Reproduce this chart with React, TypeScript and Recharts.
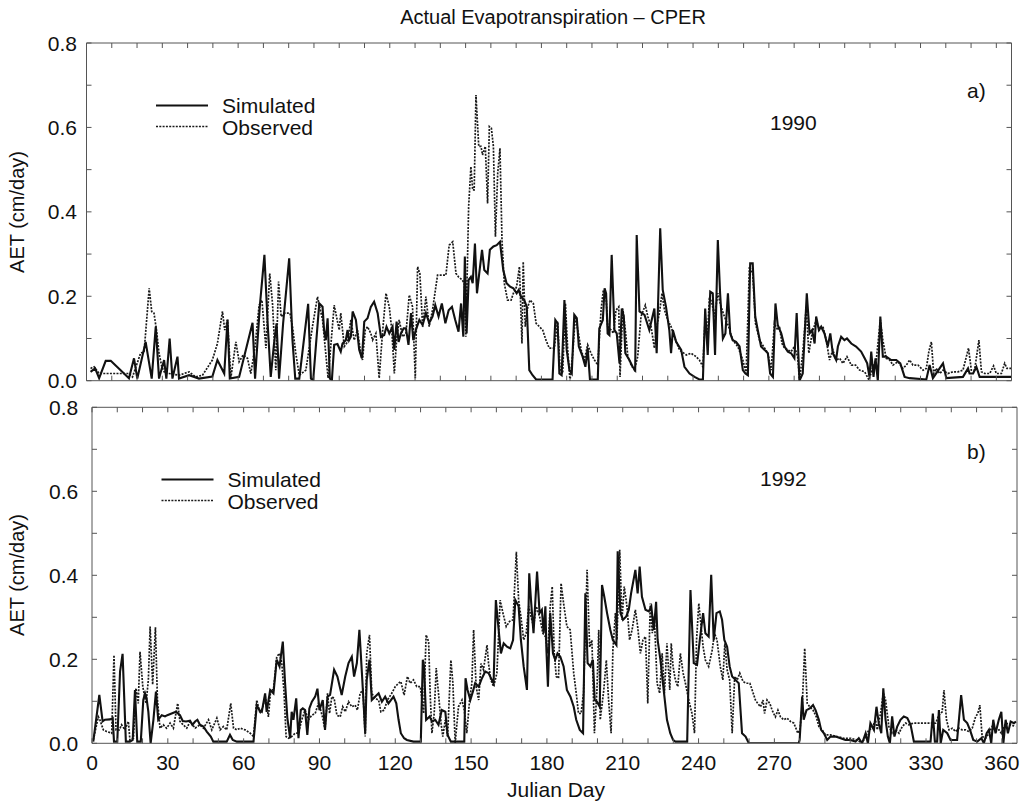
import React from "react";
import { LineChart, Line, XAxis, YAxis } from "recharts";

// ---------------- data (Julian day, AET cm/day) ----------------
const simulated1990: [number, number][] = [
  [1.6,0.021],[3.4,0.029],[5,0.006],[7.6,0.047],[9.6,0.047],[16.8,0.006],[18.8,0.053],[20.1,0.005],[23.4,0.092],[25.8,0.005],[27.4,0.128],[28.7,0.005],[30.7,0.049],[31.6,0.005],[32.9,0.1],[34,0.005],[36,0.057],[36.6,0.005],[40.6,0.013],[44.5,0.005],[49.8,0.01],[51.8,0.049],[54.5,0.017],[55.8,0.145],[56.7,0.005],[60.4,0.009],[65.7,0.137],[66.7,0.005],[68.6,0.178],[70.4,0.298],[71.6,0.144],[72.9,0.009],[74.2,0.088],[75.2,0.136],[76.2,0.005],[77.8,0.136],[80.2,0.29],[81.5,0.096],[82.6,0.005],[84.2,0.005],[87.7,0.182],[88.8,0.005],[89.7,0.002],[92.1,0.183],[93.4,0.175],[94,0.12],[94.7,0.096],[95.4,0.148],[96.3,0.005],[97.1,0.002],[98,0.085],[99.3,0.087],[100.6,0.069],[101.3,0.088],[102.6,0.096],[103.3,0.12],[103.9,0.096],[104.6,0.104],[105.3,0.164],[106.6,0.144],[107.9,0.073],[109,0.053],[109.9,0.14],[111.2,0.148],[112.5,0.175],[113.8,0.187],[115.2,0.16],[116.5,0.104],[117.8,0.108],[118.7,0.128],[119.8,0.112],[121.1,0.128],[121.8,0.073],[122.7,0.14],[123.5,0.092],[124.4,0.112],[125.5,0.124],[126.4,0.124],[127.4,0.085],[128.4,0.16],[129.3,0.096],[130.3,0.12],[131.7,0.144],[133,0.132],[134.3,0.16],[135.6,0.137],[136.9,0.152],[138,0.179],[139.3,0.152],[140.6,0.183],[142,0.136],[143.3,0.167],[144.6,0.175],[145.9,0.144],[147.2,0.116],[148.2,0.183],[149.1,0.104],[149.7,0.294],[150.4,0.112],[151.2,0.239],[152.1,0.246],[152.8,0.231],[153.7,0.325],[154.5,0.207],[155.4,0.254],[156.5,0.31],[157.4,0.262],[158.7,0.254],[159.6,0.31],[161,0.318],[162.3,0.321],[163.6,0.329],[164.9,0.262],[166.2,0.231],[167.6,0.223],[168.9,0.219],[170.2,0.207],[171,0.215],[171.9,0.199],[173.2,0.191],[174.2,0.175],[175.2,0.025],[176.5,0.013],[177.9,0.003],[184.4,0.003],[185.5,0.144],[186.4,0.136],[187.1,0.017],[188,0.013],[189.1,0.191],[190,0.073],[191.1,0.025],[192,0.017],[193,0.156],[194,0.148],[194.8,0.081],[196.3,0.057],[197.4,0.033],[198.3,0.077],[199.2,0.003],[202.3,0.003],[202.9,0.124],[204.3,0.144],[205,0.219],[205.6,0.207],[206.2,0.112],[206.9,0.108],[207.8,0.298],[208.9,0.12],[209.8,0.112],[210.9,0.041],[211.8,0.171],[212.6,0.152],[213.2,0.065],[214.8,0.049],[216.1,0.033],[217.1,0.025],[217.7,0.345],[218.8,0.164],[220.8,0.156],[222.7,0.12],[224.7,0.171],[225.6,0.065],[227,0.361],[228,0.215],[229.3,0.175],[230.6,0.12],[231.3,0.065],[232,0.12],[233.3,0.092],[235.3,0.073],[236.6,0.033],[238.6,0.017],[240.6,0.009],[242.5,0.003],[243.9,0.003],[244.8,0.171],[245.8,0.061],[246.8,0.211],[247.8,0.207],[248.7,0.061],[249.8,0.333],[250.7,0.207],[251.8,0.1],[252.8,0.112],[253.8,0.207],[254.7,0.112],[255.7,0.096],[257,0.092],[258.4,0.081],[259.7,0.025],[260.7,0.017],[261.7,0.013],[262.6,0.278],[263.6,0.278],[264.6,0.152],[265.6,0.12],[266.9,0.081],[268.3,0.073],[269.6,0.065],[270.5,0.017],[271.6,0.009],[272.6,0.183],[273.5,0.132],[274.9,0.112],[276.2,0.081],[277.5,0.069],[278.8,0.065],[280.1,0.053],[281,0.16],[282.1,0],[283.4,0.017],[285,0.207],[286.1,0.112],[287.1,0.12],[288.1,0.088],[288.7,0.152],[289.8,0.12],[290.7,0.128],[292,0.112],[293.3,0.081],[294.3,0.112],[295.3,0.065],[296.6,0.049],[297.3,0.081],[298.6,0.104],[299.9,0.096],[300.9,0.1],[302.6,0.088],[304.5,0.081],[306.5,0.069],[307.9,0.053],[308.9,0.041],[309.8,0.009],[310.5,0.069],[311.4,0.009],[312.2,0.053],[313.1,0],[314.1,0.152],[315.1,0.057],[316.4,0.057],[318.4,0.049],[320.4,0.049],[322,0.041],[323.7,0.009],[325.7,0.006],[332.3,0.003],[333.6,0.037],[334.9,0.006],[338.9,0.041],[340.2,0.006],[346.8,0.009],[348.8,0.029],[349.4,0.017],[350.8,0.017],[352.1,0.033],[353.4,0.009],[365.9,0.009]
];

const observed1990: [number, number][] = [
  [1.6,0.029],[3,0.033],[5,0.017],[7.6,0.017],[10.2,0.017],[16.8,0.017],[18.2,0.009],[21.4,0.065],[22.8,0.069],[24.8,0.219],[25.8,0.164],[26.7,0.16],[27.7,0.12],[28.7,0.065],[29.8,0.033],[31.1,0.017],[32.7,0.017],[36.6,0.013],[40.6,0.021],[43.2,0.009],[45.9,0.013],[49.8,0.049],[51.8,0.088],[53.8,0.164],[54.7,0.12],[55.8,0.144],[57.1,0.006],[59.1,0.092],[60.4,0.045],[62,0.061],[63.7,0.053],[65,0.017],[66.7,0.081],[68.3,0.179],[69.4,0.191],[71,0.077],[72.5,0.254],[73.6,0.183],[74.9,0.025],[76,0.235],[77,0.152],[78.6,0.16],[80.5,0.16],[81.5,0.128],[82.8,0.065],[84.2,0.013],[86.8,0.025],[89.4,0.128],[91.4,0.199],[93.4,0.144],[95.6,0.006],[98,0.179],[100,0.12],[100.6,0.16],[102,0.081],[103.3,0.092],[104.6,0.144],[105.9,0.096],[107.2,0.12],[108.6,0.061],[109.2,0.049],[110.3,0.12],[111.2,0.128],[112.5,0.112],[113.2,0.096],[114.5,0.112],[115.8,0.006],[117.1,0.112],[118.5,0.207],[119.8,0.175],[120.8,0.12],[121.8,0.017],[122.7,0.096],[123.7,0.144],[125.1,0.104],[126.4,0.112],[127.7,0.203],[129,0.175],[130.1,0.006],[131,0.27],[131.9,0.254],[133,0.128],[134.3,0.199],[135.6,0.128],[136.9,0.167],[138.9,0.25],[140.2,0.25],[142.2,0.25],[143.5,0.321],[144.9,0.329],[146.2,0.254],[147.2,0.246],[148.6,0.239],[149.5,0.231],[150.1,0.104],[151.2,0.412],[152.1,0.507],[152.8,0.452],[153.4,0.452],[154.1,0.677],[155.2,0.555],[156.1,0.555],[156.7,0.535],[157.8,0.555],[158.7,0.42],[159.4,0.602],[160.2,0.598],[161,0.555],[161.8,0.341],[162.7,0.491],[163.6,0.551],[164.4,0.333],[165.3,0.231],[166.6,0.191],[168,0.191],[168.9,0.207],[170.2,0.223],[171.3,0.27],[172.3,0.088],[172.8,0.282],[173.6,0.128],[174.6,0.175],[175.5,0.191],[176.8,0.183],[177.9,0.136],[179.2,0.128],[180.5,0.12],[181.8,0.096],[183.1,0.077],[185.1,0.077],[186.4,0.14],[187.4,0.025],[188.4,0.017],[189.5,0.183],[190.4,0.073],[191.3,0],[192.4,0.065],[193.4,0.152],[194.4,0.12],[195.7,0.073],[197,0.049],[198.3,0.085],[199.6,0.065],[201,0.049],[202.3,0.037],[203.6,0.167],[204.5,0.215],[205.6,0.199],[206.2,0.128],[207.6,0.12],[208.5,0.112],[209.5,0.167],[210.6,0.175],[211.1,0.009],[212.2,0.171],[213.2,0.12],[214.2,0.057],[215.5,0.037],[216.8,0.025],[218.1,0.057],[219.4,0.152],[221.1,0.179],[222.1,0.152],[223.4,0.128],[224.7,0.077],[225.6,0.128],[226.7,0.16],[227.7,0.207],[228.7,0.167],[230,0.144],[231.3,0.128],[232.6,0.104],[234.6,0.073],[237.3,0.061],[239.2,0.065],[241.2,0.057],[242.5,0.049],[243.9,0.033],[244.8,0.152],[245.6,0.096],[246.5,0.199],[247.5,0.183],[248.5,0.152],[249.8,0.207],[251.1,0.175],[252.4,0.152],[254.1,0.128],[255.7,0.096],[257.7,0.081],[259.7,0.049],[261,0.017],[262.3,0.27],[263.6,0.254],[264.7,0.136],[266.3,0.096],[267.9,0.081],[269.6,0.065],[270.9,0.025],[272.2,0.136],[273.5,0.12],[274.2,0.128],[275.2,0.088],[276.2,0.077],[277.5,0.073],[278.8,0.069],[280.1,0.081],[281.4,0.057],[282.1,0],[283.4,0.065],[284.8,0.175],[285.8,0.065],[287.1,0.112],[288.7,0.144],[290,0.12],[291.4,0.128],[292.7,0.096],[294,0.049],[295.3,0.073],[296.6,0.049],[298,0.053],[299.3,0.041],[300.9,0.057],[302.6,0.037],[304.3,0.037],[305.9,0.025],[307.9,0.021],[309.6,0.002],[311.2,0.033],[312.5,0.049],[314.1,0.144],[315.1,0.096],[316.4,0.053],[317.8,0.049],[319.1,0.037],[321.1,0.045],[323,0.029],[324.4,0.037],[325.7,0.049],[327,0.037],[329,0.037],[331,0.025],[332.3,0.029],[333.3,0.069],[334.3,0.092],[335.2,0.017],[336.2,0.029],[337.6,0.017],[338.9,0.025],[340.8,0.017],[342.8,0.021],[344.8,0.021],[346.8,0.025],[349,0.077],[350.1,0.025],[351.4,0.025],[353.1,0.096],[354.1,0.021],[355.4,0.017],[357.4,0.017],[358.9,0.035],[360,0.017],[362,0.017],[363.3,0.041],[364.2,0.029],[365.9,0.029]
];

const simulated1992: [number, number][] = [
  [0.5,0.004],[2.9,0.115],[4.2,0.052],[5.1,0.056],[7.1,0.057],[8.2,0.06],[8.7,0.004],[10,0.004],[11.1,0.171],[12.1,0.213],[13.4,0.004],[15,0.004],[16.1,0.008],[17,0.127],[17.9,0.004],[19.3,0.004],[20.3,0.103],[21,0.119],[21.6,0.107],[22.3,0.075],[23.2,0],[24.3,0.056],[25.3,0.123],[26.2,0.056],[27.6,0.067],[28.9,0.064],[29.8,0.067],[31.5,0.071],[33.2,0.075],[34.8,0.067],[35.9,0.053],[37.2,0.052],[38.8,0.054],[39.7,0.044],[40.8,0.052],[41.7,0.056],[42.7,0.044],[44.1,0.04],[45.4,0.028],[47,0.016],[48,0.004],[53.3,0.004],[54.6,0.02],[55.7,0.008],[57.3,0.004],[63.9,0.004],[65.2,0.091],[66.2,0.079],[67.2,0.075],[68.5,0.119],[69.1,0.075],[70.5,0.127],[71.8,0.119],[73.1,0.199],[74.2,0.183],[75.5,0.242],[76.4,0.143],[77.3,0.06],[78.4,0.012],[79,0.075],[79.7,0.056],[80.8,0.107],[81.7,0.012],[82.6,0.079],[83.4,0.083],[84.3,0.079],[85.2,0.02],[86,0.083],[87,0.099],[88.3,0.111],[89.2,0.13],[90,0.079],[91.3,0.103],[92.2,0.032],[93.2,0.111],[94.2,0.115],[95.8,0.175],[97.1,0.159],[98.8,0.115],[100.2,0.159],[101.5,0.191],[102.8,0.206],[103.7,0.159],[104.8,0.191],[105.8,0.27],[106.8,0.167],[107.4,0.103],[108.1,0.024],[108.7,0.151],[109.8,0.199],[110.7,0.103],[112,0.111],[113.4,0.119],[114.7,0.099],[116,0.111],[117.3,0.095],[119.3,0.111],[120.4,0.095],[121.3,0.056],[122.2,0.024],[123.5,0.012],[124.6,0.008],[127.2,0.004],[130.1,0.004],[130.9,0.199],[131.4,0.183],[132.2,0.056],[133.6,0.064],[134.5,0.052],[135.8,0.056],[137.1,0.044],[138.4,0.079],[139.8,0.075],[140.7,0.02],[142,0.004],[147.3,0.004],[147.8,0.155],[148.6,0.127],[149.7,0.103],[150.7,0.123],[151.6,0.143],[153,0.135],[154.3,0.155],[155.6,0.171],[156.9,0.167],[158.2,0.151],[158.9,0.143],[159.8,0.341],[160.9,0.27],[161.8,0.214],[162.9,0.238],[164.2,0.23],[165.5,0.226],[166.6,0.246],[167.5,0.341],[168.8,0.326],[169.7,0.246],[170.8,0.183],[172.1,0.127],[173,0.405],[173.7,0.341],[174.7,0.262],[176.1,0.409],[177.1,0.31],[178,0.318],[178.7,0.262],[179.4,0.326],[179.8,0.222],[180.4,0.135],[181.3,0.31],[182.4,0.214],[183.3,0.199],[184.2,0.214],[185.3,0.206],[186.6,0.183],[187.9,0.127],[189.3,0.111],[190.6,0.087],[191.6,0.056],[193,0.032],[194.3,0.024],[195.2,0.357],[196.1,0.191],[197.2,0.183],[198.2,0.199],[198.9,0.103],[199.8,0.099],[200.9,0.087],[201.8,0.377],[202.7,0.349],[203.8,0.31],[205.1,0.27],[206.1,0.246],[207.5,0.234],[208,0.457],[209.1,0.31],[210.1,0.294],[211.4,0.302],[212.4,0.318],[213.3,0.357],[215,0.413],[215.9,0.357],[216.7,0.421],[217.6,0.349],[219,0.318],[220.3,0.314],[221.3,0.326],[222.3,0.27],[223.2,0.337],[223.8,0.246],[224.9,0.199],[226.2,0.127],[227.5,0.056],[228.8,0.024],[229.9,0.008],[230.8,0.004],[235.5,0.004],[236.8,0.365],[238.1,0.191],[239.4,0.187],[240.5,0.246],[241.8,0.31],[242.7,0.262],[244,0.254],[245,0.401],[246,0.246],[247.1,0.31],[248.4,0.314],[249.3,0.294],[250.2,0.246],[251.3,0.23],[252.3,0.183],[253.3,0.159],[254.6,0.151],[255.9,0.143],[257.2,0.024],[258.6,0.016],[259.9,0],[279.6,0],[280,0.008],[281,0.111],[281.6,0.056],[282.7,0.079],[284,0.083],[285.3,0.091],[286.3,0.079],[287.6,0.056],[288.5,0.032],[289.6,0.024],[290.9,0.008],[292.2,0.016],[294.2,0.016],[296.2,0.012],[298.1,0.008],[300.1,0.008],[302.1,0.004],[303.4,0.012],[304.7,0],[306.1,0.024],[307,0],[308,0.048],[309.4,0.032],[310.4,0.087],[311.3,0.048],[312.3,0.024],[313.1,0.131],[314,0.056],[314.9,0.016],[315.7,0],[316.6,0.064],[317.5,0.016],[318.6,0.04],[319.9,0.056],[321.2,0.064],[322.6,0.06],[323.9,0.044],[325.2,0.004],[331.8,0.004],[332.7,0.071],[333.5,0.004],[334.4,0.004],[335.1,0.079],[335.8,0],[336.8,0.032],[338.4,0.024],[339.7,0.008],[342.3,0.008],[343.9,0.115],[345,0.056],[346.3,0.048],[347.4,0.032],[348.7,0.008],[350.3,0.004],[351.9,0.012],[352.9,0],[354,0.024],[354.9,0.032],[355.8,0],[356.6,0.056],[357.5,0.024],[358.8,0.056],[359.8,0.075],[360.6,0],[361.5,0.056],[362.4,0.024],[363.5,0.052],[364.8,0.048],[365.6,0.052]
];

const observed1992: [number, number][] = [
  [0.5,0.008],[2.5,0.063],[3.1,0.056],[4.5,0.032],[5.8,0.028],[7.8,0.024],[8.7,0.21],[9.5,0.032],[10.8,0.032],[11.7,0.044],[13,0.032],[14.4,0.052],[15,0.008],[16.4,0.012],[17.4,0.131],[18.3,0.095],[19,0.218],[20.1,0.135],[20.6,0.119],[21.4,0.095],[22.3,0.151],[23,0.278],[24,0.14],[25.1,0.276],[25.9,0.103],[26.9,0.036],[28.2,0.044],[29.5,0.036],[30.9,0.048],[32.2,0.036],[33.9,0.095],[34.8,0.052],[36.1,0.044],[37.5,0.036],[38.8,0.052],[40.8,0.036],[42.7,0.044],[44.1,0.036],[46.1,0.056],[47.4,0.032],[49.4,0.06],[50.7,0.032],[52,0.04],[53.3,0.032],[54.9,0.095],[56,0.036],[57.3,0.032],[58.6,0.036],[60.6,0.032],[62.6,0.024],[63.9,0.016],[65.2,0.103],[66.5,0.071],[67.6,0.087],[68.6,0.111],[69.8,0.063],[70.7,0.127],[71.8,0.127],[73.1,0.206],[74.2,0.214],[75.1,0.191],[76,0.119],[76.8,0.016],[77.7,0.012],[79,0.016],[80.4,0.024],[81.7,0.024],[83,0.056],[84.3,0.079],[85.6,0.056],[87,0.067],[88.3,0.071],[89.6,0.095],[90.5,0.079],[91.3,0.06],[92.2,0.032],[93.2,0.119],[94,0.071],[94.9,0.111],[95.8,0.107],[96.9,0.067],[98.2,0.063],[99.2,0.087],[100.2,0.075],[101.5,0.099],[102.8,0.087],[104.1,0.091],[105,0.079],[106.1,0.119],[107.2,0.127],[108.1,0.016],[108.7,0.214],[109.8,0.258],[110.7,0.119],[112,0.107],[113.4,0.103],[114.3,0.075],[115.6,0.079],[116.9,0.103],[118.6,0.119],[120,0.135],[121.3,0.143],[122.2,0.147],[123.5,0.115],[124.8,0.159],[125.9,0.143],[127.2,0.151],[128.5,0.135],[129.9,0.135],[131.2,0.071],[132.2,0.258],[133.2,0.242],[133.8,0.119],[134.5,0.024],[135.4,0.071],[136.2,0.179],[137.1,0.119],[138.1,0.048],[138.8,0.016],[139.8,0.056],[140.7,0.016],[142,0.198],[142.8,0.143],[143.7,0],[145,0.087],[146.4,0.103],[147.3,0.079],[148.3,0.024],[149.4,0.103],[150.3,0.143],[151,0.27],[152,0.135],[153,0.103],[153.9,0.19],[154.9,0.175],[156.3,0.234],[156.9,0.19],[157.8,0.151],[158.9,0.135],[160.2,0.167],[161.5,0.341],[162.6,0.31],[163.9,0.278],[165.2,0.29],[166.6,0.294],[167.9,0.456],[168.8,0.341],[169.7,0.302],[170.8,0.246],[171.8,0.262],[172.8,0.326],[173.7,0.302],[174.7,0.278],[175.8,0.326],[177.1,0.302],[178.4,0.262],[179.4,0.254],[180.3,0.214],[181.3,0.326],[182.1,0.373],[182.9,0.214],[183.7,0.159],[184.6,0.155],[185.6,0.381],[186.6,0.333],[187.9,0.278],[189.2,0.27],[190.6,0.167],[191.6,0.119],[192.5,0.071],[193.5,0.071],[194.5,0.119],[195.9,0.413],[196.9,0.229],[197.8,0.246],[198.8,0.024],[199.8,0.127],[200.5,0.27],[201.1,0.056],[202.5,0.127],[203.5,0.198],[204.4,0.103],[205.4,0.024],[206.1,0.222],[207.1,0.31],[207.7,0.246],[208.8,0.461],[209.7,0.294],[210.6,0.373],[211.7,0.325],[212.7,0.246],[213.7,0.27],[215,0.318],[215.9,0.278],[217,0.214],[218,0.246],[219,0.254],[219.9,0.095],[220.9,0.333],[221.7,0.262],[222.5,0.302],[223.6,0.143],[224.6,0.119],[225.6,0.214],[226.5,0.119],[227.5,0.238],[228.6,0.127],[229.2,0.238],[229.9,0.183],[230.8,0.151],[231.8,0.135],[232.8,0.214],[233.9,0.167],[234.8,0.143],[236.1,0.103],[237.4,0.071],[238.4,0.024],[239.2,0.246],[240.1,0.333],[241,0.278],[241.8,0.23],[242.7,0.198],[244,0.183],[245.4,0.222],[246.3,0.262],[247.3,0.246],[248.6,0.183],[249.6,0.151],[250.4,0.238],[251.3,0.175],[252.3,0.151],[253.3,0.024],[254.3,0.159],[255.3,0.151],[256.3,0.167],[257.6,0.147],[258.9,0.143],[260.3,0.143],[261.2,0.127],[262.5,0.103],[263.4,0.095],[264.5,0.087],[265.5,0.103],[266.1,0.071],[267.1,0.103],[268.2,0.095],[269.1,0.079],[270.4,0.063],[271.4,0.079],[272.4,0.063],[273.7,0.056],[275,0.06],[276.4,0.052],[277.7,0.048],[279.3,0.024],[280.1,0.032],[281,0.087],[282,0.226],[283,0.095],[284,0.087],[285.3,0.079],[286.6,0.063],[287.6,0.04],[288.9,0.032],[290.2,0.02],[292.2,0.02],[294.8,0.016],[297.5,0.012],[300.1,0.012],[302.8,0.008],[304.7,0],[306.1,0.016],[307.4,0.032],[308.7,0.036],[310,0.056],[310.7,0.032],[312,0.071],[313.1,0.119],[314,0.103],[315.3,0.04],[316.6,0.024],[317.9,0.032],[319.3,0.024],[320.6,0.04],[321.9,0.048],[323.2,0.044],[324.9,0.048],[332.5,0.048],[333.8,0.048],[335.1,0.067],[336.4,0.075],[337.1,0.127],[338.1,0.056],[339.1,0.032],[340.4,0.036],[341.7,0.028],[343,0.036],[344.3,0.032],[345.6,0.032],[347,0.028],[348.3,0.036],[349.6,0.063],[350.5,0.071],[351.3,0.091],[352.2,0.016],[353.6,0.012],[354.9,0.024],[356.2,0.04],[357.5,0.028],[358.9,0.032],[359.8,0.024],[361.5,0.048],[363.5,0.044],[365.4,0.04]
];

const dayTicks: number[] = [0,10,20,30,40,50,60,70,80,90,100,110,120,130,140,150,160,170,180,190,200,210,220,230,240,250,260,270,280,290,300,310,320,330,340,350,360];
const aetTicks: number[] = [0,0.1,0.2,0.3,0.4,0.5,0.6,0.7,0.8];
const panelYears: string[] = ["1990", "1992"];
const panelLetters: string[] = ["a)", "b)"];
const seriesNames: string[] = ["Simulated", "Observed"];

// ---------------- styles ----------------
const FONT = "'Liberation Sans', Arial, Helvetica, sans-serif";
const INK = "#111";
const FRAME = "#555";
const SIM_STYLE = { stroke: "#111", strokeWidth: 2.1 };
const OBS_STYLE = { stroke: "#1a1a1a", strokeWidth: 1.7, strokeDasharray: "2 1.3" };

const toPoints = (arr: [number, number][]) => arr.map(([day, aet]) => ({ day, aet }));

const TICK_LEN = 5;

function XTick(props: any) {
  const { x, y, payload, dir, showLabel } = props;
  const v = payload.value as number;
  return (
    <g>
      <line x1={x} x2={x} y1={y} y2={y + dir * TICK_LEN} stroke={FRAME} strokeWidth={1} />
      {showLabel && v % 30 === 0 ? (
        <text x={x} y={y + 26.5} textAnchor="middle" fontSize={21} fontFamily={FONT} fill={INK}>
          {v}
        </text>
      ) : null}
    </g>
  );
}

function YTick(props: any) {
  const { x, y, payload, dir, labelGap } = props;
  const v = payload.value as number;
  const tenth = Math.round(v * 10);
  return (
    <g>
      <line x1={x} x2={x + dir * TICK_LEN} y1={y} y2={y} stroke={FRAME} strokeWidth={1} />
      {labelGap !== undefined && tenth % 2 === 0 ? (
        <text x={x - labelGap} y={y + 7.5} textAnchor="end" fontSize={21} fontFamily={FONT} fill={INK}>
          {(tenth / 10).toFixed(1)}
        </text>
      ) : null}
    </g>
  );
}

function Panel(props: {
  sim: [number, number][];
  obs: [number, number][];
  height: number;
  margin: { top: number; right: number; bottom: number; left: number };
  labelGap: number;
  showXLabels: boolean;
}) {
  const { sim, obs, height, margin, labelGap, showXLabels } = props;
  return (
    <LineChart width={1024} height={height} margin={margin} style={{ overflow: "visible" }}>
      <XAxis
        xAxisId="b"
        dataKey="day"
        type="number"
        domain={[0, 366]}
        ticks={dayTicks}
        interval={0}
        allowDataOverflow
        height={1}
        tickSize={0}
        tickMargin={0}
        tickLine={false}
        axisLine={{ stroke: FRAME, strokeWidth: 1 }}
        tick={(p: any) => <XTick {...p} dir={-1} showLabel={showXLabels} />}
      />
      <XAxis
        xAxisId="t"
        orientation="top"
        dataKey="day"
        type="number"
        domain={[0, 366]}
        ticks={dayTicks}
        interval={0}
        allowDataOverflow
        height={1}
        tickSize={0}
        tickMargin={0}
        tickLine={false}
        axisLine={{ stroke: FRAME, strokeWidth: 1 }}
        tick={(p: any) => <XTick {...p} dir={1} showLabel={false} />}
      />
      <YAxis
        yAxisId="l"
        type="number"
        domain={[0, 0.8]}
        ticks={aetTicks}
        interval={0}
        allowDataOverflow
        width={1}
        tickSize={0}
        tickMargin={0}
        tickLine={false}
        axisLine={{ stroke: FRAME, strokeWidth: 1 }}
        tick={(p: any) => <YTick {...p} dir={1} labelGap={labelGap} />}
      />
      <YAxis
        yAxisId="r"
        orientation="right"
        type="number"
        domain={[0, 0.8]}
        ticks={aetTicks}
        interval={0}
        allowDataOverflow
        width={1}
        tickSize={0}
        tickMargin={0}
        tickLine={false}
        axisLine={{ stroke: FRAME, strokeWidth: 1 }}
        tick={(p: any) => <YTick {...p} dir={-1} />}
      />
      <Line
        xAxisId="b"
        yAxisId="l"
        data={toPoints(obs)}
        dataKey="aet"
        name={seriesNames[1]}
        type="linear"
        dot={false}
        activeDot={false}
        isAnimationActive={false}
        {...OBS_STYLE}
      />
      <Line
        xAxisId="b"
        yAxisId="l"
        data={toPoints(sim)}
        dataKey="aet"
        name={seriesNames[0]}
        type="linear"
        dot={false}
        activeDot={false}
        isAnimationActive={false}
        {...SIM_STYLE}
      />
    </LineChart>
  );
}

function LegendBlock(props: { x: number; y: number }) {
  const { x, y } = props;
  return (
    <g fontFamily={FONT} fontSize={21} fill={INK}>
      <line x1={x} x2={x + 52} y1={y} y2={y} {...SIM_STYLE} />
      <text x={x + 66} y={y + 7}>{seriesNames[0]}</text>
      <line x1={x} x2={x + 52} y1={y + 21} y2={y + 21} {...OBS_STYLE} />
      <text x={x + 66} y={y + 29}>{seriesNames[1]}</text>
    </g>
  );
}

export default function App() {
  return (
    <div style={{ position: "absolute", left: 0, top: 0, width: 1024, height: 805, background: "#fff", overflow: "hidden" }}>
      <div style={{ position: "absolute", left: 0, top: 0 }}>
        <Panel
          sim={simulated1990}
          obs={observed1990}
          height={400}
          margin={{ top: 42, right: 11.5, bottom: 18.3, left: 85.5 }}
          labelGap={9.5}
          showXLabels={false}
        />
      </div>
      <div style={{ position: "absolute", left: 0, top: 385 }}>
        <Panel
          sim={simulated1992}
          obs={observed1992}
          height={420}
          margin={{ top: 21.3, right: 6, bottom: 60.7, left: 91 }}
          labelGap={13.7}
          showXLabels={true}
        />
      </div>
      <svg
        width={1024}
        height={805}
        style={{ position: "absolute", left: 0, top: 0, pointerEvents: "none" }}
      >
        <text x={553} y={24} textAnchor="middle" fontFamily={FONT} fontSize={20} fill={INK}>
          Actual Evapotranspiration – CPER
        </text>
        <text x={556} y={797} textAnchor="middle" fontFamily={FONT} fontSize={21} fill={INK}>
          Julian Day
        </text>
        <text transform="translate(24,212) rotate(-90)" textAnchor="middle" fontFamily={FONT} fontSize={20} fill={INK}>
          AET (cm/day)
        </text>
        <text transform="translate(24,575) rotate(-90)" textAnchor="middle" fontFamily={FONT} fontSize={20} fill={INK}>
          AET (cm/day)
        </text>
        <LegendBlock x={156} y={105.5} />
        <LegendBlock x={161.5} y={479.5} />
        <text x={770} y={130} fontFamily={FONT} fontSize={21} fill={INK}>{panelYears[0]}</text>
        <text x={760} y={486} fontFamily={FONT} fontSize={21} fill={INK}>{panelYears[1]}</text>
        <text x={967} y={98} fontFamily={FONT} fontSize={21} fill={INK}>{panelLetters[0]}</text>
        <text x={967} y={459} fontFamily={FONT} fontSize={21} fill={INK}>{panelLetters[1]}</text>
      </svg>
    </div>
  );
}
